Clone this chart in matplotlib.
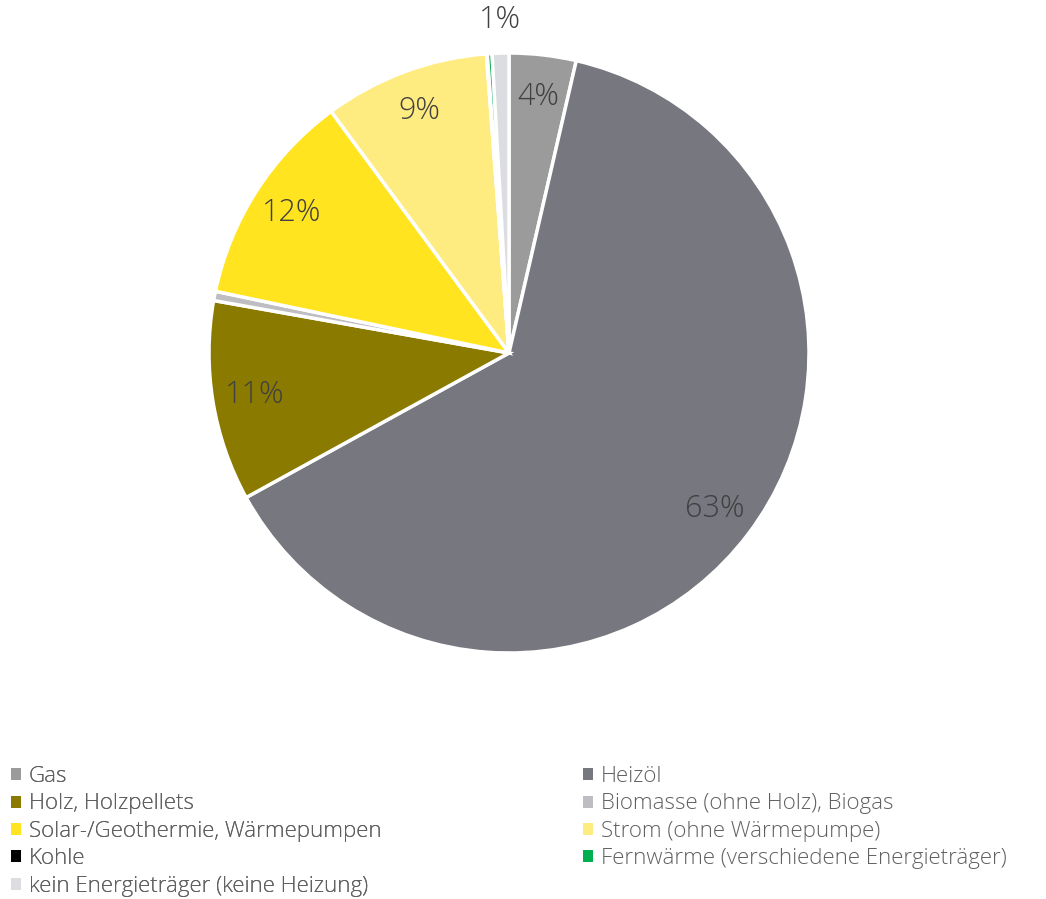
import matplotlib
matplotlib.use("Agg")
import matplotlib.pyplot as plt
from matplotlib.patches import Patch
import numpy as np

categories = ["Gas", "Heizöl", "Holz, Holzpellets", "Biomasse (ohne Holz), Biogas",
              "Solar-/Geothermie, Wärmepumpen", "Strom (ohne Wärmepumpe)", "Kohle",
              "Fernwärme (verschiedene Energieträger)", "kein Energieträger (keine Heizung)"]
values = [3.6, 63.4, 10.8, 0.5, 11.6, 8.9, 0.05, 0.25, 0.9]
colors = ["#9b9b9b", "#76777f", "#8b7a00", "#bdbdc2", "#ffe41f", "#ffec80",
          "#000000", "#00b050", "#dcdde0"]

plt.rcParams['font.family'] = ['Open Sans', 'DejaVu Sans']

fig = plt.figure(figsize=(10.46, 8.99), dpi=100)
cx, cy, r = 509 / 1046, 1 - 353 / 899, 300
ax = fig.add_axes([cx - r / 1046, cy - r / 899, 2 * r / 1046, 2 * r / 899])

def fmt(p):
    return f"{p:.0f}%" if p >= 2 else ""

wedges, texts, autotexts = ax.pie(values, colors=colors, startangle=90, counterclock=False,
                                  autopct=fmt, pctdistance=0.86,
                                  wedgeprops=dict(edgecolor="white", linewidth=2.5),
                                  textprops=dict(fontsize=22, color="#404040", weight="light"))
# outside label for "kein Energieträger"
w = wedges[-1]
ang = np.deg2rad((w.theta1 + w.theta2) / 2)
ax.text(1.11 * np.cos(ang), 1.11 * np.sin(ang), f"{values[-1]:.0f}%", ha="center", va="center",
        fontsize=22, color="#404040", weight="light")
ax.set_xlim(-1, 1)
ax.set_ylim(-1, 1)
ax.set_aspect("equal")
ax.axis("off")

handles = [Patch(facecolor=c, edgecolor="none") for c in colors]
left_idx = [0, 2, 4, 6, 8]
right_idx = [1, 3, 5, 7]
common = dict(frameon=False, prop=dict(size=16, weight="light"), labelcolor="#606060",
              handlelength=0.45, handleheight=0.45, handletextpad=0.35, labelspacing=0.29,
              borderpad=0, borderaxespad=0)
leg1 = fig.legend([handles[i] for i in left_idx], [categories[i] for i in left_idx],
                  loc="upper left", bbox_to_anchor=(11 / 1046, 1 - 766 / 899), **common)
fig.add_artist(leg1)
leg2 = fig.legend([handles[i] for i in right_idx], [categories[i] for i in right_idx],
                  loc="upper left", bbox_to_anchor=(583 / 1046, 1 - 766 / 899), **common)

fig.savefig("out.png", dpi=100)
